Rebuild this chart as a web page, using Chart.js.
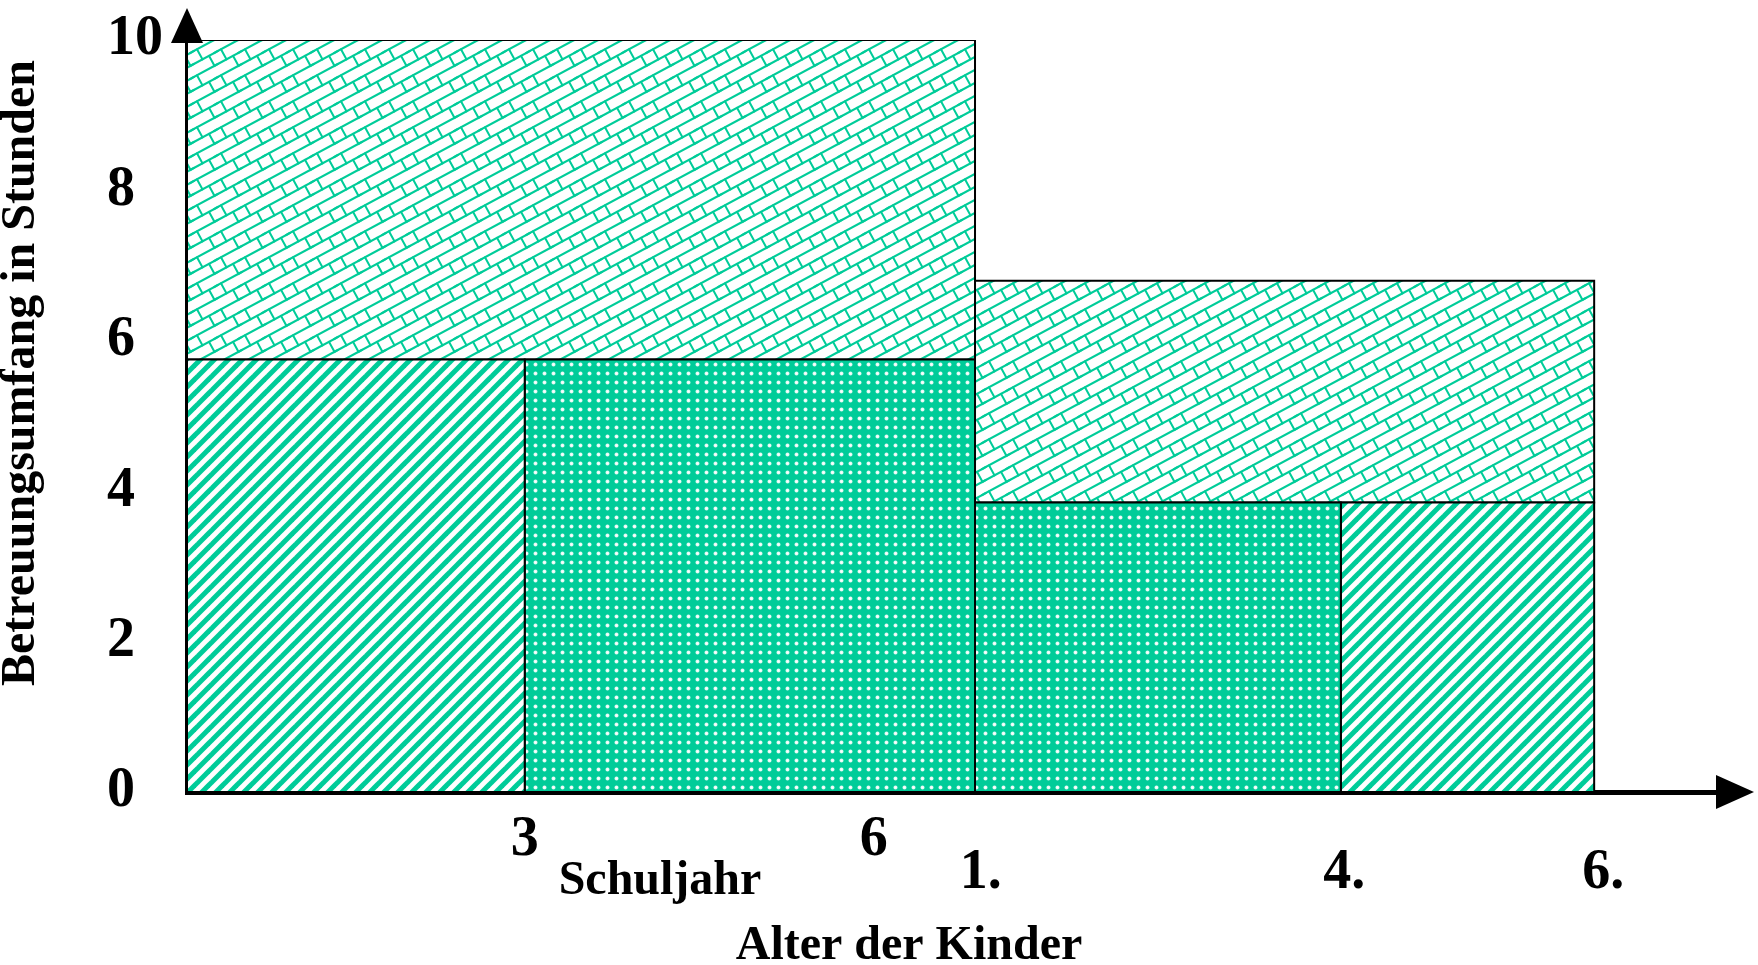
<!DOCTYPE html>
<html>
<head>
<meta charset="utf-8">
<title>Betreuungsumfang</title>
<script src="https://cdn.jsdelivr.net/npm/chart.js@4.4.1/dist/chart.umd.min.js"></script>
<style>
  html, body { margin: 0; padding: 0; background: #fff; }
  #wrap { width: 1758px; height: 965px; }
</style>
</head>
<body>
<div id="wrap"><canvas id="betreuungChart" width="1758" height="965"></canvas></div>
<script>
// Blöcke: Anfang/Ende auf der Zeitachse (Alter, danach Schuljahr), von/bis in Stunden
const blockStart = [0, 3, 0, 7, 10.25, 7];
const blockEnde = [3, 7, 7, 10.25, 12.5, 12.5];
const blockVon = [0, 0, 5.75, 0, 0, 3.85];
const blockBis = [5.75, 5.75, 10, 3.85, 3.85, 6.8];
const blockArt = ['streifen', 'punkte', 'ziegel', 'punkte', 'streifen', 'ziegel'];

// Achsenbeschriftungen
const yTicks = [0, 2, 4, 6, 8, 10];
const alterWerte = [3, 6.1];
const alterLabels = ['3', '6'];
const schuljahrWerte = [7.05, 10.28, 12.58];
const schuljahrLabels = ['1.', '4.', '6.'];

const gruen = '#00cc99';
const schrift = '"Liberation Serif", "Times New Roman", serif';

function musterStreifen() {
    const c = document.createElement('canvas');
    c.width = 14; c.height = 14;
    const g = c.getContext('2d');
    g.fillStyle = '#fff';
    g.fillRect(0, 0, 14, 14);
    g.strokeStyle = gruen;
    g.lineWidth = 5;
    for (let k = -1; k <= 1; k++) {
        g.beginPath();
        g.moveTo(k * 14 - 2, 16);
        g.lineTo(k * 14 + 16, -2);
        g.stroke();
    }
    return g.createPattern(c, 'repeat');
}

function musterPunkte() {
    const c = document.createElement('canvas');
    c.width = 9; c.height = 9;
    const g = c.getContext('2d');
    g.fillStyle = gruen;
    g.fillRect(0, 0, 9, 9);
    const rg = g.createRadialGradient(4.5, 4.5, 0, 4.5, 4.5, 2.5);
    rg.addColorStop(0, 'rgba(255,255,255,1)');
    rg.addColorStop(0.55, 'rgba(255,255,255,0.9)');
    rg.addColorStop(1, 'rgba(255,255,255,0)');
    g.fillStyle = rg;
    g.beginPath();
    g.arc(4.5, 4.5, 2.5, 0, Math.PI * 2);
    g.fill();
    return g.createPattern(c, 'repeat');
}

function musterZiegel() {
    const W = 24, H = 26, s = 13;
    const c = document.createElement('canvas');
    c.width = W; c.height = H;
    const g = c.getContext('2d');
    g.fillStyle = '#fff';
    g.fillRect(0, 0, W, H);
    g.strokeStyle = gruen;
    g.lineWidth = 2;
    g.lineCap = 'round';
    const k = s / W;
    // Stegrichtung senkrecht zu den Linien
    const len = Math.hypot(W, s);
    const d = s * W / len;
    const sx = d * s / len, sy = d * W / len;
    for (const ox of [-W, 0, W]) {
        for (const oy of [-H, 0, H]) {
            for (const c0 of [0, s]) {
                g.beginPath();
                g.moveTo(ox - 2, oy + c0 + 2 * k);
                g.lineTo(ox + W + 2, oy + c0 - s - 2 * k);
                g.stroke();
            }
            // Stege zwischen den Linien, versetzt
            for (const [a, c0] of [[5, 0], [17, s]]) {
                const y = oy + c0 - k * a;
                g.beginPath();
                g.moveTo(ox + a, y);
                g.lineTo(ox + a + sx, y + sy);
                g.stroke();
            }
        }
    }
    return g.createPattern(c, 'repeat');
}

const muster = {
    streifen: musterStreifen(),
    punkte: musterPunkte(),
    ziegel: musterZiegel()
};

const datensaetze = blockStart.map((x0, i) => ({
    data: [
        { x: x0, y: blockVon[i] },
        { x: x0, y: blockBis[i] },
        { x: blockEnde[i], y: blockBis[i] },
        { x: blockEnde[i], y: blockVon[i] },
        { x: x0, y: blockVon[i] }
    ],
    fill: 'shape',
    backgroundColor: muster[blockArt[i]],
    borderColor: '#000',
    borderWidth: 2,
    pointRadius: 0,
    tension: 0
}));

// Pfeilspitzen an den Achsen
const pfeile = {
    id: 'pfeile',
    afterDraw(chart) {
        const { ctx, chartArea: a } = chart;
        ctx.save();
        ctx.fillStyle = '#000';
        ctx.beginPath();
        ctx.moveTo(a.left - 16, a.top + 3);
        ctx.lineTo(a.left + 16, a.top + 3);
        ctx.lineTo(a.left, a.top - 32);
        ctx.closePath();
        ctx.fill();
        ctx.beginPath();
        ctx.moveTo(a.right - 2, a.bottom - 17);
        ctx.lineTo(a.right - 2, a.bottom + 17);
        ctx.lineTo(a.right + 36, a.bottom);
        ctx.closePath();
        ctx.fill();
        ctx.restore();
    }
};

// Beschriftung unter der x-Achse (zwei Zeilen) und Achsentitel
const beschriftung = {
    id: 'beschriftung',
    afterDraw(chart) {
        const { ctx, chartArea: a } = chart;
        const x = chart.scales.x;
        ctx.save();
        ctx.fillStyle = '#000';
        ctx.textAlign = 'center';
        ctx.textBaseline = 'middle';
        ctx.font = 'bold 56px ' + schrift;
        alterWerte.forEach((v, i) => {
            ctx.fillText(alterLabels[i], x.getPixelForValue(v), a.bottom + 49);
        });
        schuljahrWerte.forEach((v, i) => {
            ctx.fillText(schuljahrLabels[i], x.getPixelForValue(v), a.bottom + 82);
        });
        ctx.font = 'bold 48px ' + schrift;
        ctx.fillText('Schuljahr', a.left + 473, a.bottom + 90);
        ctx.fillText('Alter der Kinder', a.left + 722, a.bottom + 155);
        ctx.translate(22, (a.top + a.bottom) / 2 - 43);
        ctx.rotate(-Math.PI / 2);
        ctx.fillText('Betreuungsumfang in Stunden', 0, 0);
        ctx.restore();
    }
};

new Chart(document.getElementById('betreuungChart'), {
    type: 'line',
    data: { datasets: datensaetze },
    options: {
        responsive: false,
        animation: false,
        layout: { padding: { left: 107, top: 39, right: 40, bottom: 173 } },
        plugins: {
            legend: { display: false },
            tooltip: { enabled: false }
        },
        scales: {
            x: {
                type: 'linear',
                min: 0,
                max: 13.6,
                z: 1,
                grid: { display: false, drawTicks: false },
                border: { display: true, color: '#000', width: 5 },
                ticks: { display: false }
            },
            y: {
                min: 0,
                max: 10,
                z: 1,
                afterBuildTicks: (s) => { s.ticks = yTicks.map(v => ({ value: v })); },
                grid: { display: false, drawTicks: false },
                border: { display: true, color: '#000', width: 5 },
                ticks: {
                    color: '#000',
                    padding: 12,
                    crossAlign: 'far',
                    font: { family: schrift, size: 56, weight: 'bold', lineHeight: 1 }
                }
            }
        }
    },
    plugins: [pfeile, beschriftung]
});
</script>
</body>
</html>
